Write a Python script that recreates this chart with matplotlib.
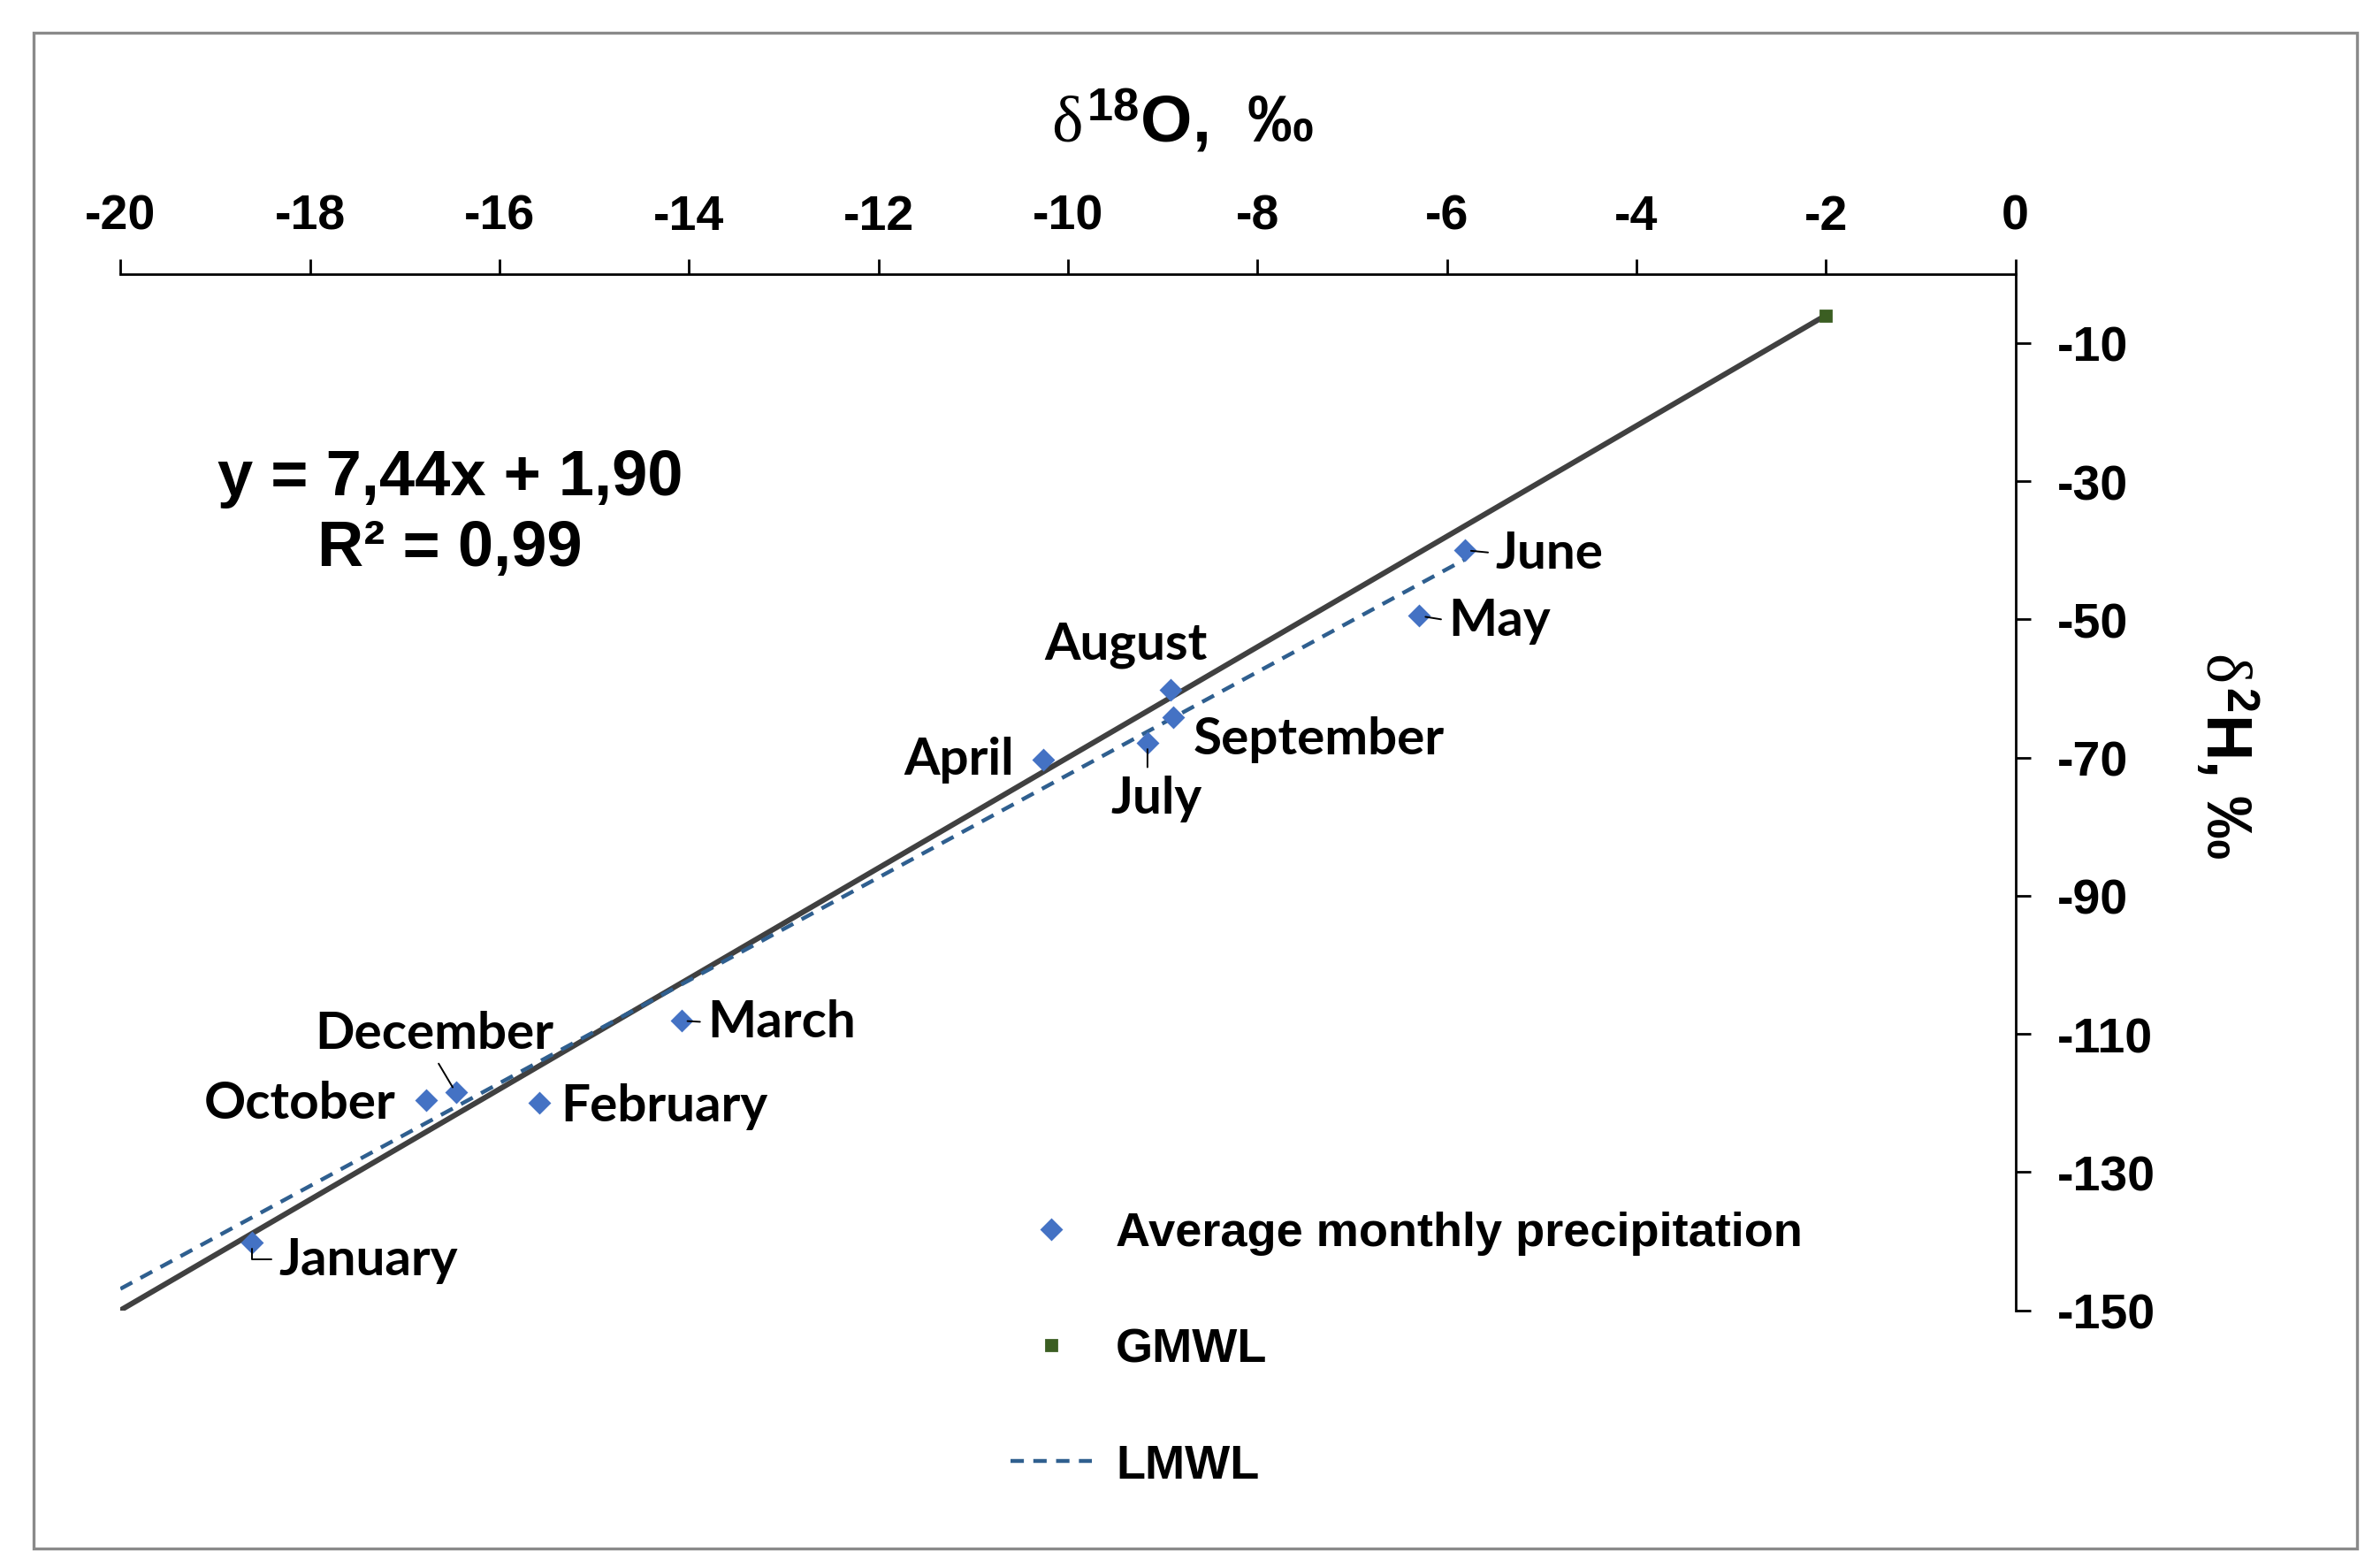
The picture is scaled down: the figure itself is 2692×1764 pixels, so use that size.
import numpy as np
import matplotlib
matplotlib.use('Agg')
import matplotlib.pyplot as plt
from matplotlib.patches import Rectangle

# monthly averages
months = ['January', 'February', 'March', 'April', 'May', 'June',
          'July', 'August', 'September', 'October', 'December']
d18o = [-18.61, -15.58, -14.08, -10.26, -6.29, -5.81,
        -9.16, -8.92, -8.89, -16.77, -16.46]
d2h = [-140.2, -120.0, -108.1, -70.3, -49.5, -40.0,
       -67.9, -60.2, -64.2, -119.6, -118.5]

# global meteoric water line (end points) and local line equation
gmwl_x = [-20, -2]
gmwl_y = [-150, -6]
lmwl_slope = 7.44
lmwl_icpt = 1.90
lmwl_r2 = 0.99

xticks = list(range(-20, 1, 2))
yticks = list(range(-150, 0, 20))

# label placement: offset in points, alignment, leader line
lab_style = {
    'January':   ((11, -7), 'left', 'angle'),
    'February':  ((8.7, -1.2), 'left', None),
    'March':     ((10.6, -0.6), 'left', 'line'),
    'April':     ((-11.8, 0), 'right', None),
    'May':       ((11.8, -1.9), 'left', 'line'),
    'June':      ((12.4, -1.2), 'left', 'line'),
    'July':      ((3.7, -22.4), 'center', 'line'),
    'August':    ((-18, 18.6), 'center', None),
    'September': ((8.1, -8.7), 'left', None),
    'October':   ((-12.4, -1.2), 'right', None),
    'December':  ((-8.7, 24.2), 'center', 'line'),
}

plt.rcParams['font.family'] = 'Liberation Sans'
plt.rcParams['font.weight'] = 'bold'
plt.rcParams['axes.unicode_minus'] = False
plt.rcParams['mathtext.fontset'] = 'custom'
plt.rcParams['mathtext.rm'] = 'Liberation Sans:weight=bold'
plt.rcParams['mathtext.bf'] = 'Liberation Sans:weight=bold'
plt.rcParams['mathtext.it'] = 'Liberation Serif:weight=normal:style=normal'

fig = plt.figure(figsize=(13.46, 8.825), dpi=200)
ax = fig.add_axes([0.0506, 0.160, 0.7962, 0.664])

# GMWL solid line + its point
ax.plot(gmwl_x, gmwl_y, '-', color='#404040', lw=2.2, zorder=2)
ax.plot(gmwl_x[-1:], gmwl_y[-1:], 's', color='#3b5e22', ms=4.5,
        ls='none', label='GMWL', zorder=4)

# LMWL trend line
lx = np.array([-20, max(d18o)])
ax.plot(lx, lmwl_slope*lx + lmwl_icpt, color='#2f5f8f', lw=1.6,
        dashes=(3.4, 2.4), label='LMWL', zorder=3)

ax.plot(d18o, d2h, 'D', color='#4472c4', ms=5.4, ls='none',
        label='Average monthly precipitation', zorder=5)

for m, x, y in zip(months, d18o, d2h):
    off, ha, lead = lab_style[m]
    kw = {}
    if lead == 'line':
        rp = {'left': (0, 0.5), 'right': (1, 0.5), 'center': (0.5, 0.5)}[ha]
        if m == 'December':
            rp = (0.5, 0)
        if m == 'July':
            rp = (0.4, 1)
        kw['arrowprops'] = dict(arrowstyle='-', color='k', lw=0.7,
                                shrinkA=1, shrinkB=2.5, relpos=rp)
    elif lead == 'angle':
        kw['arrowprops'] = dict(arrowstyle='-', color='k', lw=0.7,
                                shrinkA=1, shrinkB=2.5, relpos=(0, 0.5),
                                connectionstyle='angle,angleA=0,angleB=90,rad=0')
    ax.annotate(m, (x, y), xytext=off, textcoords='offset points',
                ha=ha, va='center', fontsize=21, family='Lato',
                fontweight='bold', zorder=6, **kw)

ax.set_xlim(-20, 0)
ax.set_ylim(-150, 0)
ax.set_xticks(xticks)
ax.set_yticks(yticks)
ax.xaxis.tick_top()
ax.yaxis.tick_right()
ax.spines['left'].set_visible(False)
ax.spines['bottom'].set_visible(False)
for s in ['top', 'right']:
    ax.spines[s].set_linewidth(1.0)
ax.tick_params(axis='x', direction='out', length=6, width=1.0, pad=8,
               labelsize=20)
ax.tick_params(axis='y', direction='out', length=6, width=1.0, pad=11,
               labelsize=20)
for t in ax.get_xticklabels() + ax.get_yticklabels():
    t.set_fontweight('bold')

fig.text(0.497, 0.922, r'$\delta^{18}$O,  ‰', ha='center', va='center',
         fontsize=27, fontweight='bold')
fig.text(0.935, 0.516, r'$\delta^{2}$H, ‰', ha='center', va='center',
         fontsize=26, fontweight='bold', rotation=270)

eq = 'y = %sx + %s\nR² = %s' % (
    ('%.2f' % lmwl_slope).replace('.', ','),
    ('%.2f' % lmwl_icpt).replace('.', ','),
    ('%.2f' % lmwl_r2).replace('.', ','))
fig.text(0.189, 0.671, eq, ha='center', va='center', fontsize=26,
         fontweight='bold', linespacing=1.23, multialignment='center')

h, l = ax.get_legend_handles_labels()
order = [2, 0, 1]
ax.legend([h[i] for i in order], [l[i] for i in order], loc='center',
          bbox_to_anchor=(0.591, 0.135), bbox_transform=fig.transFigure,
          frameon=False, handlelength=1.7, labelspacing=1.5,
          handletextpad=0.5, prop={'weight': 'bold', 'size': 19.5})

fig.patches.append(Rectangle((0.0141, 0.0076), 0.9763, 0.9709,
                             transform=fig.transFigure, fill=False,
                             ec='#8a8a8a', lw=1.2))

fig.savefig('out.png', dpi=200)
